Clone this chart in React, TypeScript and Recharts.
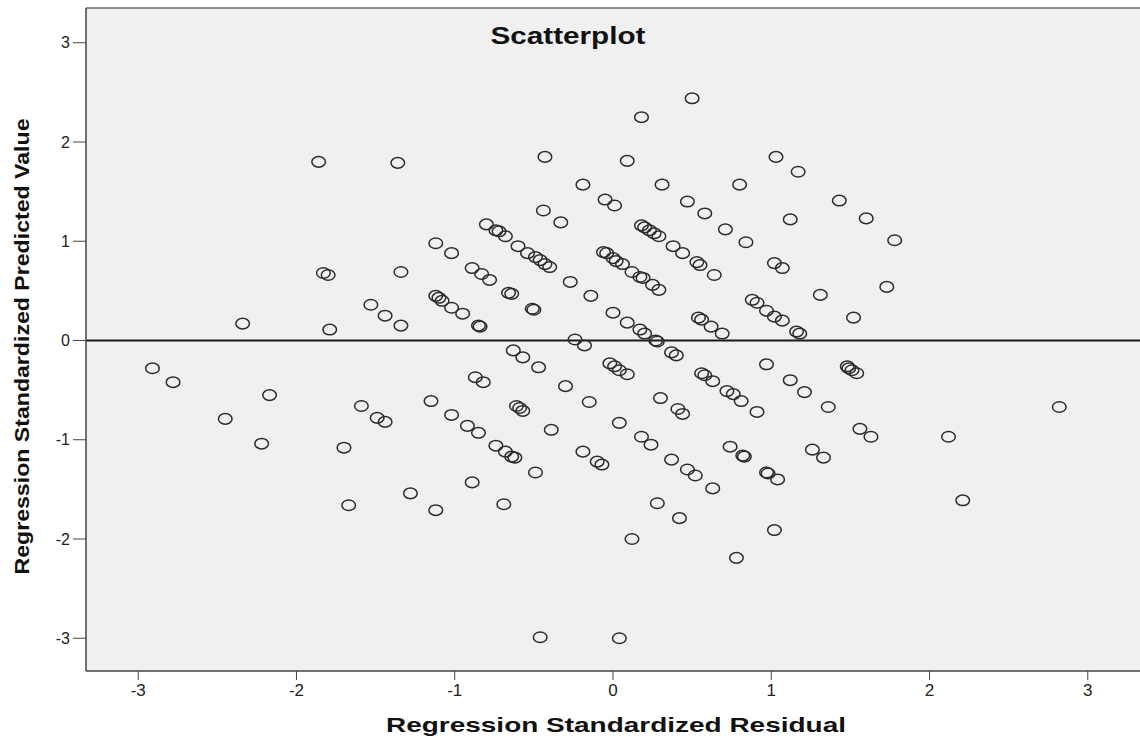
import React from 'react';
import { ScatterChart, Scatter, XAxis, YAxis, CartesianGrid, ReferenceLine } from 'recharts';

// [residual, predicted] pairs
const aboveZero: [number, number][] = [
  [0.50, 2.44], [0.18, 2.25], [-1.86, 1.80], [-1.36, 1.79], [-0.43, 1.85], [0.09, 1.81], [1.03, 1.85], [1.17, 1.70],
  [-0.19, 1.57], [0.31, 1.57], [0.80, 1.57], [-0.05, 1.42], [0.01, 1.36], [0.47, 1.40], [1.43, 1.41], [-0.44, 1.31],
  [0.58, 1.28], [1.60, 1.23], [1.12, 1.22], [-0.33, 1.19], [-0.80, 1.17], [-0.74, 1.11], [-0.72, 1.10], [-0.68, 1.05],
  [-0.60, 0.95], [-0.54, 0.88], [-0.49, 0.84], [-0.46, 0.81], [-0.43, 0.77], [-0.40, 0.74], [0.18, 1.16], [0.20, 1.14],
  [0.23, 1.11], [0.26, 1.08], [0.29, 1.05], [0.38, 0.95], [0.44, 0.88], [0.53, 0.79], [0.55, 0.76], [0.64, 0.66],
  [0.71, 1.12], [0.84, 0.99], [1.78, 1.01], [1.02, 0.78], [1.07, 0.73], [-1.12, 0.98], [-1.02, 0.88], [-0.89, 0.73],
  [-0.83, 0.67], [-0.78, 0.61], [-1.83, 0.68], [-1.80, 0.66], [-1.34, 0.69], [-0.66, 0.48], [-0.64, 0.47], [-0.27, 0.59],
  [-0.14, 0.45], [-0.06, 0.89], [-0.04, 0.88], [0.00, 0.83], [0.02, 0.80], [0.06, 0.77], [0.12, 0.69], [0.17, 0.64],
  [0.19, 0.63], [0.25, 0.56], [0.29, 0.51], [-1.12, 0.45], [-1.10, 0.43], [-1.08, 0.40], [-1.02, 0.33], [-0.95, 0.27],
  [-1.53, 0.36], [-1.44, 0.25], [-1.34, 0.15], [-2.34, 0.17], [-1.79, 0.11], [-0.85, 0.15], [-0.84, 0.14], [-0.51, 0.32],
  [-0.50, 0.31], [0.00, 0.28], [0.09, 0.18], [0.17, 0.11], [0.20, 0.07], [-0.24, 0.01], [0.54, 0.23], [0.56, 0.21],
  [0.62, 0.14], [0.69, 0.07], [0.88, 0.41], [0.91, 0.38], [0.97, 0.30], [1.02, 0.24], [1.07, 0.20], [1.16, 0.09],
  [1.18, 0.07], [1.31, 0.46], [1.73, 0.54], [1.52, 0.23], [0.27, 0.00],
];

const belowZero: [number, number][] = [
  [0.28, -0.01], [-0.18, -0.05], [-0.63, -0.10], [-0.57, -0.17], [-0.47, -0.27], [-0.02, -0.23], [0.01, -0.26], [0.04, -0.30],
  [0.09, -0.34], [0.37, -0.12], [0.40, -0.15], [0.97, -0.24], [1.48, -0.26], [1.49, -0.28], [1.51, -0.30], [1.54, -0.33],
  [-2.91, -0.28], [-2.78, -0.42], [-2.17, -0.55], [-2.45, -0.79], [-2.22, -1.04], [-1.59, -0.66], [-1.49, -0.78], [-1.44, -0.82],
  [-1.15, -0.61], [-1.70, -1.08], [-1.28, -1.54], [-1.67, -1.66], [-1.12, -1.71], [-0.87, -0.37], [-0.82, -0.42], [-0.30, -0.46],
  [-0.15, -0.62], [-0.61, -0.66], [-0.59, -0.68], [-0.57, -0.71], [-1.02, -0.75], [-0.92, -0.86], [-0.85, -0.93], [-0.39, -0.90],
  [0.04, -0.83], [0.18, -0.97], [0.24, -1.05], [-0.74, -1.06], [-0.68, -1.12], [-0.64, -1.17], [-0.62, -1.18], [-0.19, -1.12],
  [-0.10, -1.22], [-0.07, -1.25], [-0.49, -1.33], [-0.89, -1.43], [-0.69, -1.65], [0.12, -2.00], [-0.46, -2.99], [0.04, -3.00],
  [0.56, -0.33], [0.58, -0.35], [0.63, -0.41], [1.12, -0.40], [1.21, -0.52], [1.36, -0.67], [0.72, -0.51], [0.76, -0.54],
  [0.81, -0.61], [0.91, -0.72], [0.30, -0.58], [0.41, -0.69], [0.44, -0.74], [1.56, -0.89], [1.63, -0.97], [0.74, -1.07],
  [0.82, -1.16], [0.83, -1.17], [1.26, -1.10], [1.33, -1.18], [0.37, -1.20], [0.47, -1.30], [0.52, -1.36], [0.63, -1.49],
  [0.97, -1.33], [0.98, -1.34], [1.04, -1.40], [0.28, -1.64], [0.42, -1.79], [1.02, -1.91], [0.78, -2.19], [2.21, -1.61],
  [2.82, -0.67], [2.12, -0.97],
];

const xTicks = [-3, -2, -1, 0, 1, 2, 3];
const yTicks = [-3, -2, -1, 0, 1, 2, 3];
const xDomain = [-3.33, 3.33];
const yDomain = [-3.33, 3.35];

const points = [...aboveZero, ...belowZero].map(([x, y]) => ({ x, y }));

const sans = "'Liberation Sans', Arial, sans-serif";

const Ring = (props: any) => {
  const { cx, cy } = props;
  if (cx == null || cy == null) return null;
  return <ellipse cx={cx} cy={cy} rx={6.8} ry={5.3} fill="none" stroke="#2b2b2b" strokeWidth={1.5} />;
};

const XTitle = (props: any) => {
  const vb = props.viewBox || { x: 0, y: 0, width: 0 };
  return (
    <text x={vb.x + vb.width / 2 + 3} y={vb.y + 61} textAnchor="middle" fontFamily={sans} fontWeight="bold"
      fontSize={21} fill="#111" textLength={460} lengthAdjust="spacingAndGlyphs">
      Regression Standardized Residual
    </text>
  );
};

const YTitle = (props: any) => {
  const vb = props.viewBox || { x: 0, y: 0, height: 0 };
  const cy = vb.y + vb.height / 2 + 7;
  const bx = 29;
  return (
    <text x={bx} y={cy} transform={`rotate(-90, ${bx}, ${cy})`} textAnchor="middle" fontFamily={sans}
      fontWeight="bold" fontSize={20} fill="#111" textLength={456} lengthAdjust="spacingAndGlyphs">
      Regression Standardized Predicted Value
    </text>
  );
};

export default function App() {
  return (
    <div style={{ position: 'absolute', left: 0, top: 0, width: 1140, height: 740, background: '#fff' }}>
      <ScatterChart width={1140} height={740} margin={{ top: 8, right: 0, bottom: 0, left: 0 }}>
        <CartesianGrid fill="#f0f0f0" stroke="none" />
        <XAxis type="number" dataKey="x" domain={xDomain} ticks={xTicks} allowDataOverflow height={69}
          tickSize={9} tickMargin={4} stroke="#444" axisLine={{ stroke: '#444', strokeWidth: 1.5 }}
          tick={{ fontSize: 17, fill: '#222', fontFamily: sans }} label={<XTitle />} />
        <YAxis type="number" dataKey="y" domain={yDomain} ticks={yTicks} allowDataOverflow width={86}
          tickSize={13} tickMargin={3} stroke="#444" axisLine={{ stroke: '#444', strokeWidth: 1.5 }}
          tick={{ fontSize: 16, fill: '#222', fontFamily: sans }} label={<YTitle />} />
        <ReferenceLine y={yDomain[1]} stroke="#666" strokeWidth={1.5} />
        <ReferenceLine y={0} stroke="#1a1a1a" strokeWidth={2} />
        <Scatter data={points} shape={<Ring />} isAnimationActive={false} />
      </ScatterChart>
      <svg width={1140} height={60} style={{ position: 'absolute', left: 0, top: 0, pointerEvents: 'none' }}>
        <text x={568} y={44} textAnchor="middle" fontFamily={sans} fontWeight="bold" fontSize={24} fill="#111"
          textLength={155} lengthAdjust="spacingAndGlyphs">
          Scatterplot
        </text>
      </svg>
    </div>
  );
}
